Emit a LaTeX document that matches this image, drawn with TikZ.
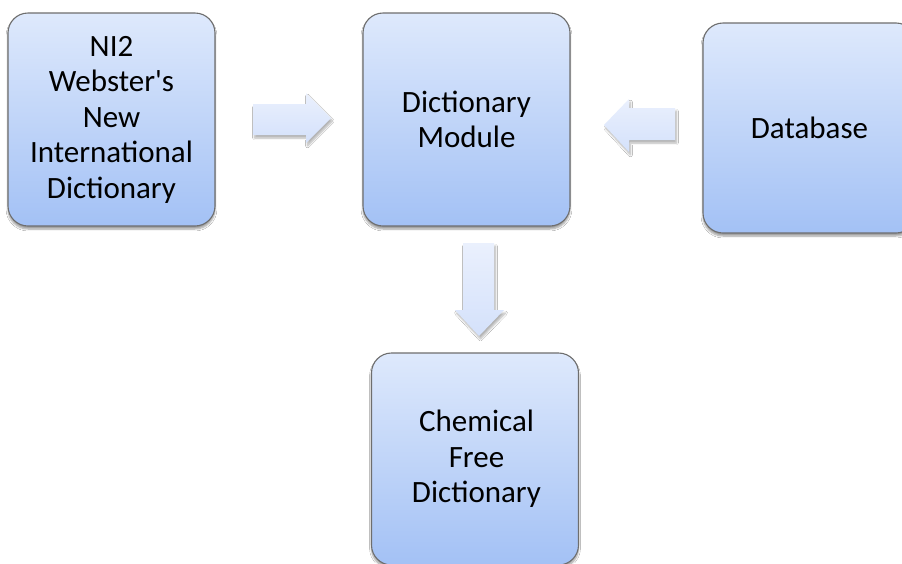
\documentclass[tikz,border=0pt]{standalone}
\usepackage{fontspec}
\setmainfont{Carlito}[Ligatures=TeXOff]
\usetikzlibrary{shadows.blur}
\definecolor{boxtop}{RGB}{222,233,252}
\definecolor{boxbot}{RGB}{163,193,245}
\definecolor{boxline}{RGB}{110,110,110}
\definecolor{arrtop}{RGB}{234,240,253}
\definecolor{arrbot}{RGB}{212,225,251}
\tikzset{
  box/.style={draw=boxline, line width=1.1pt, rounded corners=20pt,
    top color=boxtop, bottom color=boxbot, align=center, inner sep=0pt,
    font=\fontsize{31}{35.5}\selectfont, minimum width=207pt,
    blur shadow={shadow xshift=0pt, shadow yshift=-3pt, shadow blur steps=6, shadow opacity=40}},
  blockarrow/.style={draw=none, top color=arrtop, bottom color=arrbot,
    blur shadow={shadow xshift=1.5pt, shadow yshift=-3pt, shadow blur steps=6, shadow opacity=30}}
}
\begin{document}
\begin{tikzpicture}[x=1pt,y=-1pt]
\useasboundingbox (0,0) rectangle (902,563);
\clip (0,0) rectangle (902,563);
\fill[white] (0,0) rectangle (902,563);
\node[box, minimum height=213pt] (ni2) at (111.5,119.5)
  {NI2\\Webster's\\New\\International\\Dictionary};
\node[box, minimum height=213pt] (dm) at (466.5,119.5) {Dictionary\\Module};
\node[box, minimum width=213pt, minimum height=210pt] (db) at (809.5,128) {Database};
\node[box, minimum height=212pt] (cfd) at (475,459) {\hspace*{3pt}Chemical\\\hspace*{3pt}Free\\\hspace*{3pt}Dictionary};
% block arrows
\coordinate (a1) at (253,118.5);
\path[blockarrow] (a1) ++(0,-14.5) -- ++(53,0) -- ++(0,-11) -- ++(25,25) -- ++(-25,25)
  -- ++(0,-8) -- ++(-53,0) -- cycle;
\coordinate (a2) at (675,124);
\path[blockarrow] (a2) ++(0,-16) -- ++(-46,0) -- ++(0,-9) -- ++(-25,26) -- ++(25,27)
  -- ++(0,-12) -- ++(46,0) -- cycle;
\coordinate (a3) at (478.5,243);
\path[blockarrow] (a3) ++(-15.5,0) -- ++(0,67) -- ++(-8,0) -- ++(24,26) -- ++(25,-26)
  -- ++(-10,0) -- ++(0,-67) -- cycle;
\end{tikzpicture}
\end{document}
